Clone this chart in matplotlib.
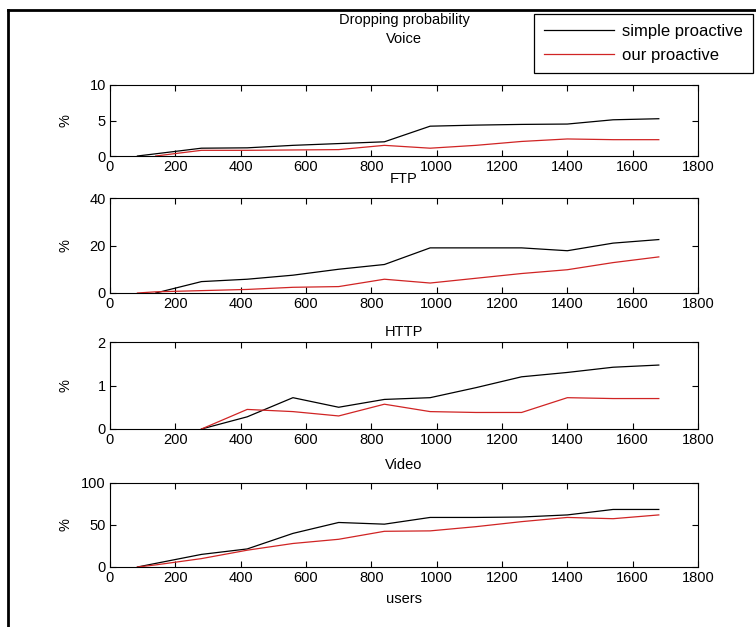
import numpy as np
import matplotlib
matplotlib.use("Agg")
import matplotlib.pyplot as plt
from matplotlib.lines import Line2D

plt.rcParams['font.family'] = ['Liberation Sans', 'DejaVu Sans']

users = [84, 140, 280, 420, 560, 700, 840, 980, 1120, 1260, 1400, 1540, 1680]
nan = np.nan

voice_simple = [0, 0.31, 1.1, 1.15, 1.5, 1.75, 2.0, 4.2, 4.35, 4.45, 4.5, 5.1, 5.25]
voice_our = [nan, 0, 0.8, 0.8, 0.85, 0.9, 1.5, 1.1, 1.5, 2.05, 2.4, 2.3, 2.3]

ftp_simple = [nan, 0, 4.8, 5.8, 7.5, 10, 12, 19, 19, 19, 17.8, 21, 22.5]
ftp_our = [0, 0.5, 1.0, 1.5, 2.4, 2.7, 5.8, 4.2, 6.2, 8.2, 9.8, 12.8, 15.2]

http_simple = [nan, nan, 0, 0.28, 0.72, 0.5, 0.68, 0.72, 0.95, 1.2, 1.3, 1.42, 1.47]
http_our = [nan, nan, 0, 0.45, 0.4, 0.3, 0.57, 0.4, 0.38, 0.38, 0.72, 0.7, 0.7]

video_simple = [0, 4.3, 15, 21.5, 40, 53, 51, 59, 59, 59.5, 62, 68.5, 68.5]
video_our = [0, 2.5, 10, 20, 28, 33, 42.5, 43, 48, 54, 59, 57.5, 62]

titles = ["Dropping probability\nVoice", "FTP", "HTTP", "Video"]
ymax = [10, 40, 2, 100]
xticks = list(range(0, 1801, 200))
series = [(voice_simple, voice_our), (ftp_simple, ftp_our),
          (http_simple, http_our), (video_simple, video_our)]

W, H = 756, 627
fig = plt.figure(figsize=(W / 100, H / 100), dpi=100)
fig.patch.set_facecolor('white')

# axes boxes in pixels (top, bottom)
boxes = [(85, 156), (198, 293), (342, 429), (483, 567)]
title_pads = [30, 10.5, 4.5, 10]
left_px, right_px = 110, 698
axes = []
for (top, bot) in boxes:
    ax = fig.add_axes([left_px / W, 1 - bot / H, (right_px - left_px) / W, (bot - top) / H])
    axes.append(ax)

red = '#d02424'
fs = 10.5
for i, ax in enumerate(axes):
    s, o = series[i]
    ax.plot(users, s, color='black', lw=0.9, label='simple proactive')
    ax.plot(users, o, color=red, lw=0.9, label='our proactive')
    ax.set_xlim(0, 1800)
    ax.set_ylim(0, ymax[i])
    ax.set_xticks(xticks)
    ax.set_yticks([0, ymax[i] / 2, ymax[i]])
    ax.set_yticklabels([f"{v:g}" for v in [0, ymax[i] / 2, ymax[i]]])
    ax.tick_params(direction='in', top=True, right=True, length=4, width=0.8,
                   labelsize=fs, pad=3)
    for sp in ax.spines.values():
        sp.set_linewidth(0.8)
    ax.set_ylabel('%', fontsize=fs)
    ax.yaxis.set_label_coords((73 - left_px) / (right_px - left_px), 0.5)
    ax.set_title(titles[i], fontsize=fs, pad=title_pads[i], linespacing=1.45)

axes[-1].set_xlabel('users', fontsize=fs, labelpad=5)

leg = axes[0].legend(loc='upper right', bbox_to_anchor=(753 / W, 1 - 14 / H),
                     bbox_transform=fig.transFigure, fontsize=12,
                     frameon=True, fancybox=False, edgecolor='black',
                     framealpha=1, handlelength=4.2, borderpad=0.6,
                     labelspacing=0.55, handletextpad=0.5, borderaxespad=0)
leg.get_frame().set_linewidth(0.9)

# figure frame lines (top and left)
fig.add_artist(Line2D([8 / W, 1], [1 - 10 / H, 1 - 10 / H], transform=fig.transFigure,
                      color='black', lw=2))
fig.add_artist(Line2D([8 / W, 8 / W], [0, 1 - 10 / H], transform=fig.transFigure,
                      color='black', lw=2))

fig.savefig('out.png', dpi=100)
